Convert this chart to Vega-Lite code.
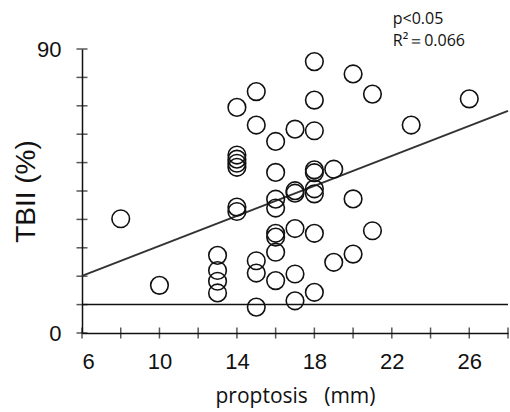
{
  "$schema": "https://vega.github.io/schema/vega-lite/v6.json",
  "width": 426,
  "height": 284,
  "autosize": "none",
  "padding": {"left": 82, "top": 49, "right": 2, "bottom": 79},
  "background": "white",
  "config": {"view": {"stroke": null}},
  "datasets": {
    "pts": [
      {"proptosis": 8, "tbii": 36.2}, {"proptosis": 10, "tbii": 15.1},
      {"proptosis": 13, "tbii": 24.6}, {"proptosis": 13, "tbii": 19.8}, {"proptosis": 13, "tbii": 16.4}, {"proptosis": 13, "tbii": 12.7},
      {"proptosis": 14, "tbii": 71.5}, {"proptosis": 14, "tbii": 56.4}, {"proptosis": 14, "tbii": 55.1}, {"proptosis": 14, "tbii": 53.8}, {"proptosis": 14, "tbii": 52.5}, {"proptosis": 14, "tbii": 39.9}, {"proptosis": 14, "tbii": 38.5},
      {"proptosis": 15, "tbii": 76.5}, {"proptosis": 15, "tbii": 65.9}, {"proptosis": 15, "tbii": 22.9}, {"proptosis": 15, "tbii": 19.0}, {"proptosis": 15, "tbii": 8.2},
      {"proptosis": 16, "tbii": 60.7}, {"proptosis": 16, "tbii": 50.9}, {"proptosis": 16, "tbii": 42.4}, {"proptosis": 16, "tbii": 39.6}, {"proptosis": 16, "tbii": 31.6}, {"proptosis": 16, "tbii": 30.4}, {"proptosis": 16, "tbii": 25.6}, {"proptosis": 16, "tbii": 16.6},
      {"proptosis": 17, "tbii": 64.6}, {"proptosis": 17, "tbii": 45.1}, {"proptosis": 17, "tbii": 44.3}, {"proptosis": 17, "tbii": 33.1}, {"proptosis": 17, "tbii": 18.7}, {"proptosis": 17, "tbii": 10.2},
      {"proptosis": 18, "tbii": 86.0}, {"proptosis": 18, "tbii": 73.8}, {"proptosis": 18, "tbii": 64.1}, {"proptosis": 18, "tbii": 51.7}, {"proptosis": 18, "tbii": 50.8}, {"proptosis": 18, "tbii": 45.7}, {"proptosis": 18, "tbii": 44.1}, {"proptosis": 18, "tbii": 31.6}, {"proptosis": 18, "tbii": 12.9},
      {"proptosis": 19, "tbii": 51.9}, {"proptosis": 19, "tbii": 22.4},
      {"proptosis": 20, "tbii": 82.1}, {"proptosis": 20, "tbii": 42.5}, {"proptosis": 20, "tbii": 25.0},
      {"proptosis": 21, "tbii": 75.7}, {"proptosis": 21, "tbii": 32.4},
      {"proptosis": 23, "tbii": 65.9}, {"proptosis": 26, "tbii": 74.2}
    ],
    "fit": [{"proptosis": 6, "tbii": 18.1}, {"proptosis": 28, "tbii": 70.4}],
    "cutoff": [{"tbii": 9}],
    "xticks": [
      {"proptosis": 6, "tbii": 0}, {"proptosis": 8, "tbii": 0}, {"proptosis": 10, "tbii": 0}, {"proptosis": 12, "tbii": 0},
      {"proptosis": 14, "tbii": 0}, {"proptosis": 16, "tbii": 0}, {"proptosis": 18, "tbii": 0}, {"proptosis": 20, "tbii": 0},
      {"proptosis": 22, "tbii": 0}, {"proptosis": 24, "tbii": 0}, {"proptosis": 26, "tbii": 0}, {"proptosis": 28, "tbii": 0}
    ],
    "yticks": [
      {"proptosis": 6, "tbii": 0}, {"proptosis": 6, "tbii": 9}, {"proptosis": 6, "tbii": 18}, {"proptosis": 6, "tbii": 27},
      {"proptosis": 6, "tbii": 36}, {"proptosis": 6, "tbii": 45}, {"proptosis": 6, "tbii": 54}, {"proptosis": 6, "tbii": 63},
      {"proptosis": 6, "tbii": 72}, {"proptosis": 6, "tbii": 81}, {"proptosis": 6, "tbii": 90}
    ],
    "notes": [
      {"proptosis": 22.05, "tbii": 97.8, "label": "p<0.05"},
      {"proptosis": 22.05, "tbii": 91.1, "label": "R²＝0.066"}
    ]
  },
  "encoding": {
    "x": {
      "field": "proptosis", "type": "quantitative",
      "scale": {"domain": [6, 28], "nice": false, "zero": false},
      "axis": {
        "title": "proptosis\u00a0\u00a0\u00a0(mm)",
        "titleFont": "Open Sans", "titleFontSize": 21, "titleFontWeight": "normal", "titleColor": "#111",
        "titlePadding": 13,
        "values": [6, 10, 14, 18, 22, 26],
        "labelFont": "Liberation Sans", "labelFontSize": 22, "labelColor": "#111", "labelPadding": 18,
        "ticks": false, "grid": false,
        "domainColor": "#111", "domainWidth": 1.5
      }
    },
    "y": {
      "field": "tbii", "type": "quantitative",
      "scale": {"domain": [0, 90], "nice": false},
      "axis": {
        "title": "TBII (%)",
        "titleFont": "Liberation Sans", "titleFontSize": 28, "titleFontWeight": "normal", "titleColor": "#111",
        "titleX": -48, "titleBaseline": "alphabetic",
        "values": [0, 90],
        "labelFont": "Liberation Sans", "labelFontSize": 22, "labelColor": "#111", "labelPadding": 21,
        "ticks": false, "grid": false,
        "domainColor": "#111", "domainWidth": 1.5
      }
    }
  },
  "layer": [
    {
      "data": {"name": "xticks"},
      "mark": {"type": "tick", "orient": "vertical", "size": 11, "thickness": 1.5, "color": "#111"}
    },
    {
      "data": {"name": "yticks"},
      "mark": {"type": "tick", "orient": "horizontal", "size": 11, "thickness": 1.5, "color": "#111"}
    },
    {
      "data": {"name": "cutoff"},
      "mark": {"type": "rule", "color": "#111", "strokeWidth": 1.5},
      "encoding": {"y": {"field": "tbii", "type": "quantitative"}, "x": null}
    },
    {
      "data": {"name": "fit"},
      "mark": {"type": "line", "color": "#333", "strokeWidth": 2}
    },
    {
      "data": {"name": "pts"},
      "mark": {"type": "point", "shape": "circle", "size": 310, "filled": false, "stroke": "#111", "strokeWidth": 1.6, "opacity": 1}
    },
    {
      "data": {"name": "notes"},
      "mark": {"type": "text", "align": "left", "baseline": "alphabetic", "font": "Open Sans", "fontSize": 16, "color": "#111"},
      "encoding": {"text": {"field": "label"}}
    }
  ]
}
